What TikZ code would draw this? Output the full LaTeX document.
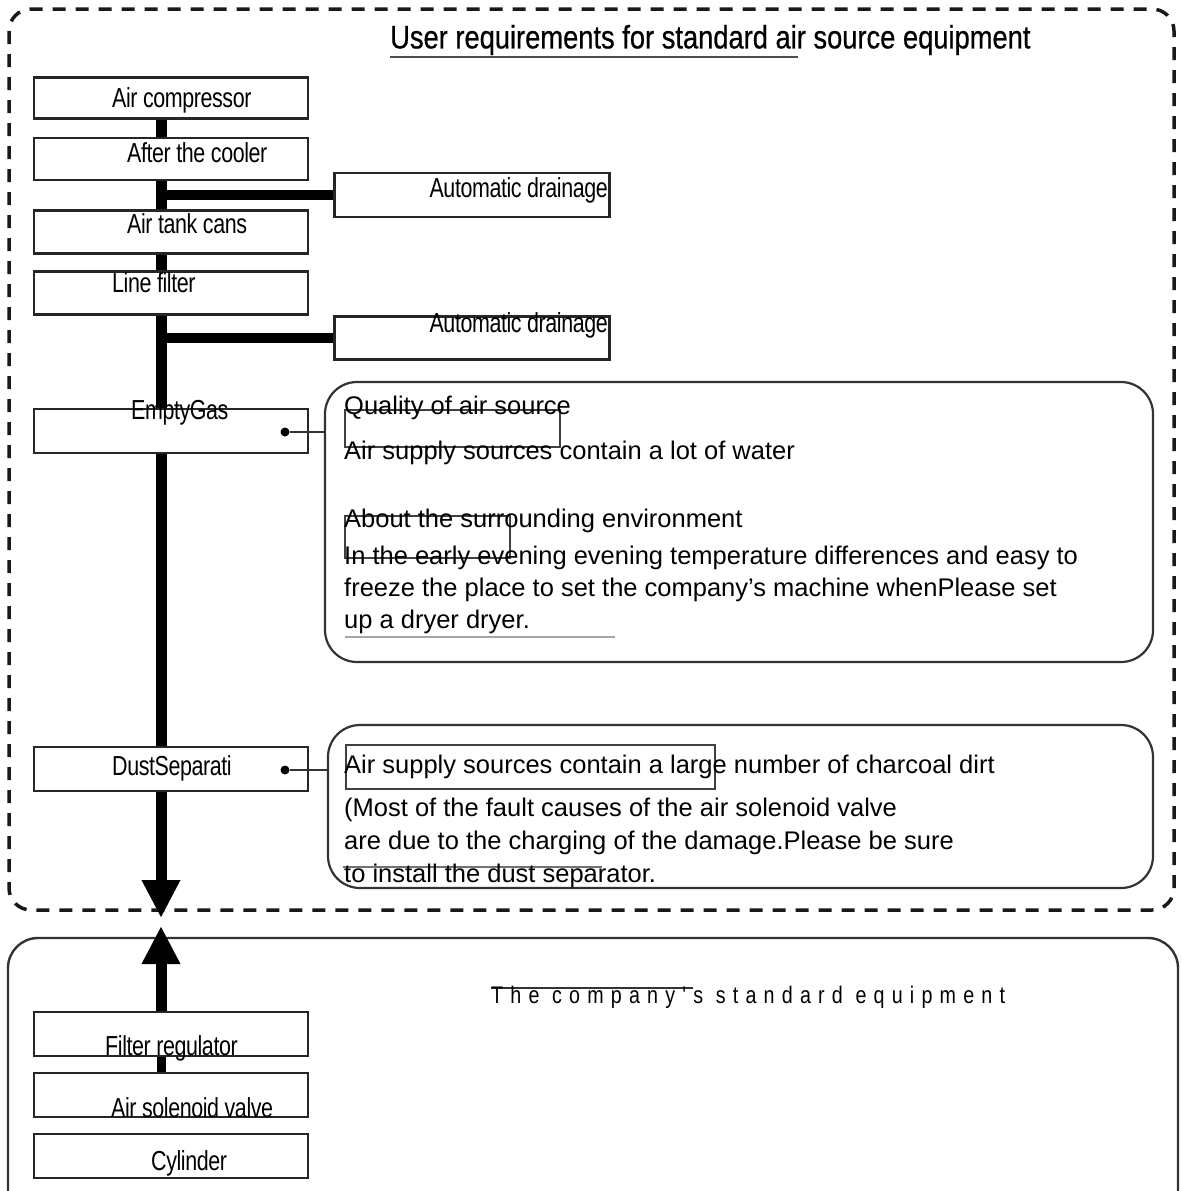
\documentclass[tikz,border=0pt]{standalone}
\usepackage{fontspec}
\setmainfont{Liberation Sans}
\newfontfamily\condfont{Liberation Sans}[FakeStretch=0.78, LetterSpace=-1.5]
\newfontfamily\titlefont{Liberation Sans}[FakeStretch=0.84, FakeBold=0.6]
\newfontfamily\spacedfont{Liberation Sans}[FakeStretch=0.82, LetterSpace=30]
\usetikzlibrary{arrows.meta}
\pgfdeclarelayer{bg}
\pgfsetlayers{bg,main}
\begin{document}
\begin{tikzpicture}[x=1pt,y=-1pt,
  box/.style={draw=black!85, line width=2.4pt, fill=white, inner sep=0pt, minimum width=274pt, minimum height=43pt},
  lbl/.style={font=\condfont\fontsize{27.5}{31}\selectfont, inner sep=0pt, anchor=west},
  txt/.style={font=\fontsize{25.5}{30}\selectfont, inner sep=0pt, anchor=west},
  pipe/.style={line width=11pt, draw=black},
  bigtip/.style={-{Triangle[length=38pt,width=36pt]}},
  callout/.style={draw=black!80, line width=2.2pt, rounded corners=32pt, inner sep=0pt},
  frame/.style={draw=black!90, line width=3.5pt, dash pattern=on 13pt off 10pt, rounded corners=22pt},
  artbox/.style={draw=black!75, line width=2.2pt},
  artline/.style={draw=black!55, line width=2pt},
  dot/.style={circle, fill=black, inner sep=0pt, minimum size=9pt},
  thin/.style={draw=black!80, line width=2pt}]
\useasboundingbox (0,0) rectangle (1181,1191);

% frames
\draw[frame] (9,9) rectangle (1174,910);
\draw[draw=black!80, line width=2.4pt, rounded corners=30pt] (8,938) rectangle (1178,1220);

% title
\node[font=\titlefont\fontsize{32.5}{36}\selectfont, inner sep=0pt, anchor=west] (title) at (390,40) {User requirements for standard air source equipment};
\draw[draw=black!70, line width=2pt] (390,57) -- (798,57);

% left boxes
\node[box, minimum height=41pt] (comp) at (171,98) {};
\node[box, minimum height=42pt] (cool) at (171,159) {};
\node[box] (tank) at (171,232) {};
\node[box] (lfil) at (171,293) {};
\node[box, minimum height=44pt] (empty) at (171,431) {};
\node[box, minimum height=44pt] (dust) at (171,769) {};
\node[box, minimum width=275pt, minimum height=44pt] (drainA) at (472,195) {};
\node[box, minimum width=275pt] (drainB) at (472,338) {};
\node[box, minimum height=44pt] (freg) at (171,1034) {};
\node[box, minimum height=44pt] (sol) at (171,1095) {};
\node[box, minimum height=44pt] (cyl) at (171,1156) {};

% labels
\node[lbl] (tcomp) at (112,100) {Air compressor};
\node[lbl] (tcool) at (127,153) {After the cooler};
\node[lbl] (ttank) at (127,224) {Air tank cans};
\node[lbl] (tlfil) at (112,283) {Line filter};
\node[lbl] (tempty) at (131,413) {EmptyGas};
\node[lbl] (tdust) at (112,768) {DustSeparati};
\node[lbl, anchor=east] (tdrainA) at (608,190) {Automatic drainage};
\node[lbl, anchor=east] (tdrainB) at (608,325) {Automatic drainage};
\node[lbl] (tfreg) at (105,1048) {Filter regulator};
\node[lbl] (tsol) at (111,1108) {Air solenoid valve};
\node[lbl] (tcyl) at (151,1163) {Cylinder};

% pipes
\coordinate (tipdown) at (161,918);
\coordinate (tipup) at (161,926);
\begin{pgfonlayer}{bg}
\draw[pipe] (tipdown |- comp.south) -- (tipdown |- dust.north);
\draw[pipe, line width=10pt] (tipdown |- drainA.west) -- (drainA.west);
\draw[pipe, line width=10pt] (tipdown |- drainB.west) -- (drainB.west);
\draw[pipe, line width=9pt] (tipup |- freg.south) -- (tipup |- sol.north);
\end{pgfonlayer}
\draw[pipe, bigtip] (tipdown |- dust.south) -- (tipdown);
\draw[pipe, bigtip] (tipup |- freg.north) -- (tipup);

% callouts
\node[callout, minimum width=828pt, minimum height=280pt] (callA) at (739,522) {};
\node[callout, minimum width=825pt, minimum height=163pt] (callB) at (740.5,806.5) {};
\node[dot] (dotA) at (285,432) {};
\node[dot] (dotB) at (285,770) {};
\draw[thin] (dotA) -- (dotA -| callA.west);
\draw[thin] (dotB) -- (dotB -| callB.west);

% artefact boxes and lines
\draw[artbox] (345,410) rectangle (560,447);
\draw[artbox] (345,516) rectangle (510,558);
\draw[artbox] (346,745) rectangle (715,789);
\draw[artline, draw=black!35] (345,637) -- (615,637);
\draw[artline] (343,867) -- (602,867);
\draw[draw=black!80, line width=2.4pt] (491,988) -- (693,988);

% callout texts
\node[txt] (qa) at (344,408) {Quality of air source};
\node[txt] (qb) at (344,453) {Air supply sources contain a lot of water};
\node[txt] (qc) at (344,521) {About the surrounding environment};
\node[txt] (qd) at (344,558) {In the early evening evening temperature differences and easy to};
\node[txt] (qe) at (344,590) {freeze the place to set the company's machine whenPlease set};
\node[txt] (qf) at (344,622) {up a dryer dryer.};
\node[txt] (da) at (344,767) {Air supply sources contain a large number of charcoal dirt};
\node[txt] (db) at (344,810) {(Most of the fault causes of the air solenoid valve};
\node[txt] (dc) at (344,843) {are due to the charging of the damage.Please be sure};
\node[txt] (dd) at (344,876) {to install the dust separator.};

% bottom title
\node[font=\spacedfont\fontsize{24}{28}\selectfont, inner sep=0pt, anchor=west] (std) at (491,997) {The company's standard equipment};
\end{tikzpicture}
\end{document}
